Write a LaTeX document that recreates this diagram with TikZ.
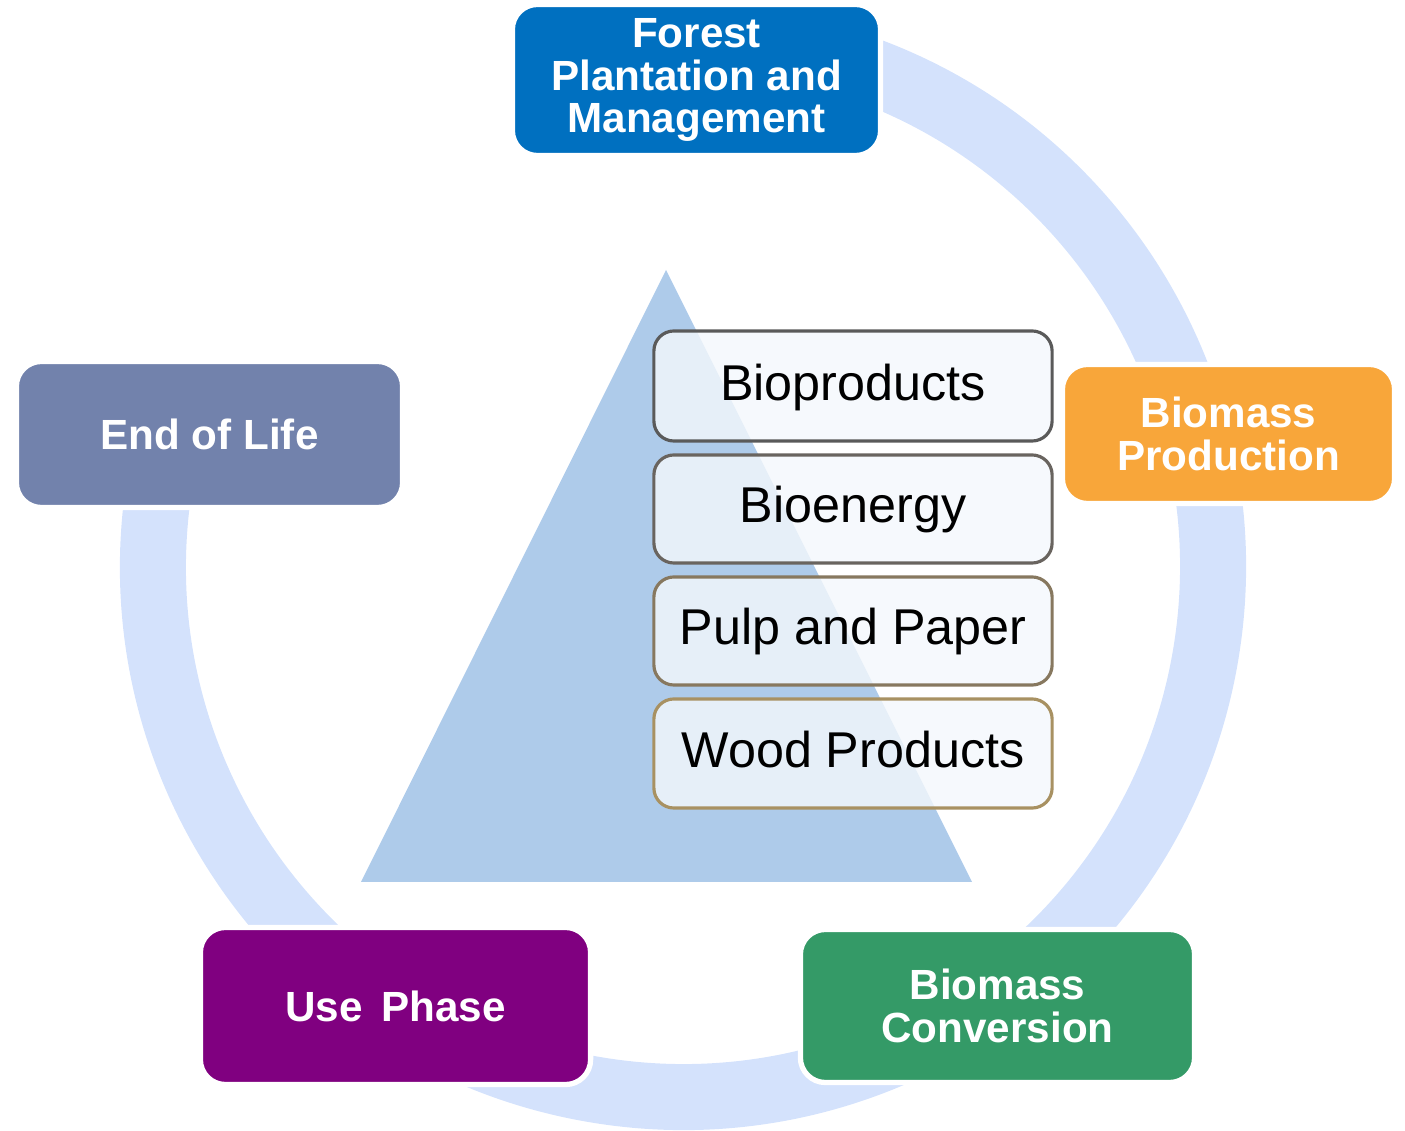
\documentclass[tikz,border=0pt]{standalone}
\usepackage{fontspec}
\setmainfont{Liberation Sans}

\definecolor{ringblue}{RGB}{212,226,252}
\definecolor{pyramid}{RGB}{174,203,234}
\definecolor{forestblue}{RGB}{0,112,192}
\definecolor{prodorange}{RGB}{248,166,58}
\definecolor{convgreen}{RGB}{52,154,103}
\definecolor{usepurple}{RGB}{128,0,128}
\definecolor{eolslate}{RGB}{114,130,172}
\definecolor{boxfill}{RGB}{244,248,252}

\tikzset{
  stage/.style={rounded corners=0.25cm, draw=white, line width=1.5pt,
    text=white, align=center, font=\bfseries\fontsize{12}{12}\selectfont},
  product/.style={rounded corners=0.2cm, line width=0.9pt, fill=boxfill,
    fill opacity=0.8, text opacity=1, minimum width=3.98cm,
    text height=0.33cm, text depth=0.05cm,
    font=\fontsize{14.3}{16}\selectfont}
}

\begin{document}
\begin{tikzpicture}[x=0.01cm, y=-0.01cm]
  \useasboundingbox (0,0) rectangle (1405,1131);

  % Open ring behind the life cycle stages (no link from End of Life back to Forest)
  \draw[ringblue, line width=0.66cm] (683,567) ++(-80:530) arc[start angle=-80, end angle=190, radius=530];

  % Pyramid of products
  \fill[pyramid] (666,270) -- (972,882) -- (361,882) -- cycle;

  % Product layers
  \node[product, draw={rgb,255:red,90;green,90;blue,90}, minimum height=1.10cm] (bioprod) at (853,386) {Bioproducts};
  \node[product, draw={rgb,255:red,105;green,100;blue,95}, minimum height=1.08cm] (bioenergy) at (853,509) {Bioenergy};
  \node[product, draw={rgb,255:red,135;green,120;blue,95}, minimum height=1.08cm] (pulp) at (853,631) {Pulp and Paper};
  \node[product, draw={rgb,255:red,168;green,145;blue,98}, minimum height=1.09cm] (wood) at (853,753.5) {Wood Products};

  % Life cycle stages
  \node[stage, fill=forestblue, minimum width=3.68cm, minimum height=1.51cm] (forest) at (696.5,80) {Forest\\Plantation and\\Management};
  \node[stage, fill=prodorange, minimum width=3.32cm, minimum height=1.39cm] (production) at (1228.5,434) {Biomass\\Production};
  \node[stage, fill=convgreen, minimum width=3.94cm, minimum height=1.53cm] (conversion) at (997.5,1006) {Biomass\\Conversion};
  \node[stage, fill=usepurple, minimum width=3.90cm, minimum height=1.57cm] (use) at (395.5,1006) {Use\hspace{0.45em}Phase};
  \node[stage, fill=eolslate, minimum width=3.86cm, minimum height=1.46cm] (eol) at (209.5,434.5) {End of Life};
\end{tikzpicture}
\end{document}
